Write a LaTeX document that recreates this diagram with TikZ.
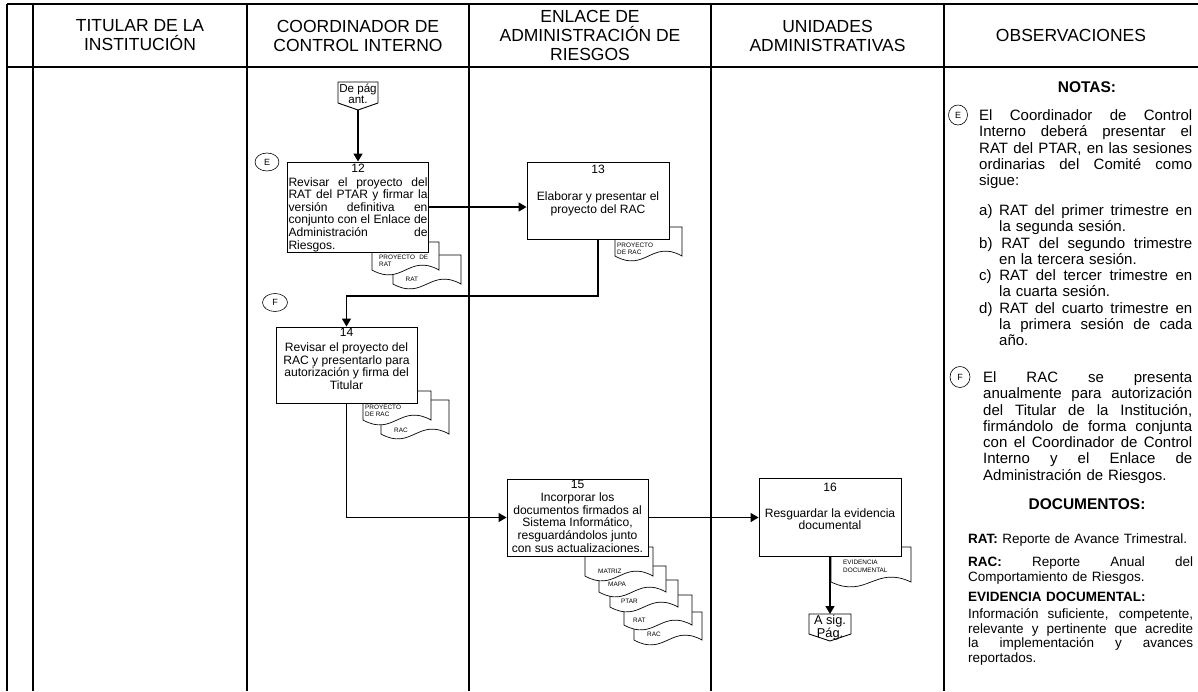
\documentclass[tikz,border=0pt]{standalone}
\usepackage{fontspec}
\setmainfont{Liberation Sans}
\usetikzlibrary{arrows.meta,shapes.geometric}
\newcommand\jl[2]{\leavevmode\hbox to #1{\spaceskip=0.25em plus 1fil\xspaceskip=0.25em plus 1fil\relax #2}}
\newcommand\docsh[4]{\draw[docline] (#1,#2) -- (#3,#2) -- (#3,#4) .. controls ({#1+0.55*(#3-#1)},{#4-17}) and ({#1+0.45*(#3-#1)},{#4+17}) .. (#1,#4) -- cycle;}
\begin{document}
\begin{tikzpicture}[x=1pt,y=-1pt,
  lane/.style={line width=1.4pt,black},
  box/.style={draw,line width=0.9pt,fill=white,inner sep=0pt,rectangle},
  conline/.style={line width=0.9pt},
  arr/.style={line width=1.4pt,-{Triangle[length=8pt,width=9pt]}},
  hdr/.style={font=\fontsize{17.5}{19}\selectfont,align=center,inner sep=0pt},
  num/.style={font=\fontsize{12.1}{12.6}\selectfont,inner sep=0pt},
  btxt/.style={font=\fontsize{12.1}{12.6}\selectfont,align=center,inner sep=0pt},
  doctxt/.style={font=\fontsize{6.4}{7.8}\selectfont,align=left,inner sep=0pt,anchor=north west},
  docline/.style={draw,line width=0.7pt,fill=white},
  note/.style={font=\fontsize{15}{16.3}\selectfont,align=left,inner sep=0pt,anchor=north west},
  docnote/.style={font=\fontsize{13.5}{14.6}\selectfont,align=left,inner sep=0pt,anchor=north west},
  ell/.style={draw,ellipse,line width=0.6pt,inner sep=0pt,font=\fontsize{9}{9}\selectfont}
]
\useasboundingbox (0,0) rectangle (1198,691);
\fill[white] (0,0) rectangle (1198,691);

% lanes
\draw[lane] (7,4) -- (1198,4);
\draw[lane] (7,67) -- (1198,67);
\foreach \x in {7,33,247,469,711,944} \draw[lane] (\x,4) -- (\x,691);

% headers
\node[hdr] (h1) at (140,35.5) {TITULAR DE LA\\INSTITUCIÓN};
\node[hdr] (h2) at (358,35.5) {COORDINADOR DE\\CONTROL INTERNO};
\node[hdr] (h3) at (590,35.5) {ENLACE DE\\ADMINISTRACIÓN DE\\RIESGOS};
\node[hdr] (h4) at (827.5,35.5) {UNIDADES\\ADMINISTRATIVAS};
\node[hdr] (h5) at (1071,35.5) {OBSERVACIONES};

% documents (back to front)
\docsh{393}{255}{461}{284}
\node[doctxt,anchor=west] (d12b) at (405.5,279) {RAT};
\docsh{372}{242}{439}{270}
\node[doctxt] (d12a) at (379,254.5) {\jl{49pt}{PROYECTO DE}\\RAT};

\docsh{615}{227}{682}{256}
\node[doctxt] (d13) at (617,242.5) {PROYECTO\\DE RAC};

\docsh{381}{400}{449}{434}
\node[doctxt,anchor=west] (d14b) at (394,430) {RAC};
\docsh{363}{391}{431}{420}
\node[doctxt] (d14a) at (365,404.5) {PROYECTO\\DE RAC};

\docsh{634}{612}{702}{640}
\node[doctxt,anchor=west] (d15e) at (647,634) {RAC};
\docsh{624}{595}{692}{625}
\node[doctxt,anchor=west] (d15d) at (633,620) {RAT};
\docsh{610}{580}{678}{607}
\node[doctxt,anchor=west] (d15c) at (621,601.5) {PTAR};
\docsh{599}{566}{666}{592}
\node[doctxt,anchor=west] (d15b) at (608,584.5) {MAPA};
\docsh{585}{547}{653}{576}
\node[doctxt,anchor=west] (d15a) at (598,571) {MATRIZ};

\docsh{831}{547}{911}{582}
\node[doctxt] (d16) at (843,560) {EVIDENCIA\\DOCUMENTAL};

% off-page connectors
\draw[conline,fill=white] (338,82) -- (378,82) -- (378,103) -- (358,110) -- (338,103) -- cycle;
\node[font=\fontsize{11.6}{11}\selectfont,align=center,inner sep=0pt] (dp) at (358,93.5) {De pág\\ant.};
\coordinate (dptip) at (358,110);

\draw[conline,fill=white] (809,614) -- (851,614) -- (851,634) -- (830,641) -- (809,634) -- cycle;
\node[font=\fontsize{12.8}{11.5}\selectfont,align=center,inner sep=0pt] (asp) at (830,627.5) {A sig.\\Pág.};
\coordinate (astop) at (830,614);

% process boxes
\node[box,minimum width=141pt,minimum height=90pt] (b12) at (358,207) {};
\node[box,minimum width=142pt,minimum height=77pt] (b13) at (598,200.5) {};
\node[box,minimum width=141pt,minimum height=76pt] (b14) at (346.5,365) {};
\node[box,minimum width=141pt,minimum height=77pt] (b15) at (577.5,517.5) {};
\node[box,minimum width=142pt,minimum height=78pt] (b16) at (830,517.5) {};

\node[num] (n12) at (358,168) {12};
\node[num] (n13) at (598,169) {13};
\node[num] (n14) at (346.5,332) {14};
\node[num] (n15) at (577.5,484) {15};
\node[num] (n16) at (830,487) {16};

\node[btxt,text width=139pt,align=left] (t12) at (358,214.5) {%
\jl{139pt}{Revisar el proyecto del}\\
\jl{139pt}{RAT del PTAR y firmar la}\\
\jl{139pt}{versión definitiva en}\\
\jl{139pt}{conjunto con el Enlace de}\\
\jl{139pt}{Administración de}\\
Riesgos.};
\node[btxt] (t13) at (598,204) {Elaborar y presentar el\\proyecto del RAC};
\node[btxt] (t14) at (346.5,366) {Revisar el proyecto del\\RAC y presentarlo para\\autorización y firma del\\Titular};
\node[btxt] (t15) at (577.5,522.5) {Incorporar los\\documentos firmados al\\Sistema Informático,\\resguardándolos junto\\con sus actualizaciones.};
\node[btxt] (t16) at (830,519) {Resguardar la evidencia\\documental};

% E / F marks
\node[ell,minimum width=24pt,minimum height=18pt] (mE) at (267,162) {E};
\node[ell,minimum width=25pt,minimum height=18pt] (mF) at (275,302.5) {F};

% connectors
\draw[arr] (dptip) -- (b12.north);
\draw[arr] (b12.east) -- (b12.east -| b13.west);
\coordinate (k13) at (470,296);
\draw[arr] (b13.south) |- (k13) -| (b14.north);
\draw[arr] (b14.south) |- (b15.west);
\draw[arr] (b15.east) -- (b16.west);
\draw[arr] (b16.south) -- (astop);

% observations
\node[font=\bfseries\fontsize{15.5}{15.5}\selectfont,inner sep=0pt] (notas) at (1087,87) {NOTAS:};
\node[ell,minimum width=19pt,minimum height=20pt] (oE) at (958,115) {E};
\node[note,text width=213pt] (noteE) at (979,109.4) {%
\jl{213pt}{El Coordinador de Control}\\
\jl{213pt}{Interno deberá presentar el}\\
\jl{213pt}{RAT del PTAR, en las sesiones}\\
\jl{213pt}{ordinarias del Comité como}\\
sigue:\\[13.5pt]
\jl{213pt}{a) RAT del primer trimestre en}\\
\hspace*{20pt}la segunda sesión.\\
\jl{213pt}{b) RAT del segundo trimestre}\\
\hspace*{20pt}en la tercera sesión.\\
\jl{213pt}{c) RAT del tercer trimestre en}\\
\hspace*{20pt}la cuarta sesión.\\
\jl{213pt}{d) RAT del cuarto trimestre en}\\
\hspace*{20pt}\jl{193pt}{la primera sesión de cada}\\
\hspace*{20pt}año.};
\node[ell,minimum width=20pt,minimum height=21pt] (oF) at (960,377) {F};
\node[note,text width=209pt] (noteF) at (983,371.4) {%
\jl{209pt}{El RAC se presenta}\\
\jl{209pt}{anualmente para autorización}\\
\jl{209pt}{del Titular de la Institución,}\\
\jl{209pt}{firmándolo de forma conjunta}\\
\jl{209pt}{con el Coordinador de Control}\\
\jl{209pt}{Interno y el Enlace de}\\
Administración de Riesgos.};
\node[font=\bfseries\fontsize{15.5}{15.5}\selectfont,inner sep=0pt] (docs) at (1087,504) {DOCUMENTOS:};
\node[docnote,text width=225pt] (defs) at (968,534) {%
\textbf{RAT:} Reporte de Avance Trimestral.\\[8.4pt]
\jl{225pt}{\textbf{RAC:} Reporte Anual del}\\
Comportamiento de Riesgos.\\[5.4pt]
\textbf{EVIDENCIA DOCUMENTAL:}\\[2.4pt]
\jl{225pt}{Información suficiente, competente,}\\
\jl{225pt}{relevante y pertinente que acredite}\\
\jl{225pt}{la implementación y avances}\\
reportados.};
\end{tikzpicture}
\end{document}
